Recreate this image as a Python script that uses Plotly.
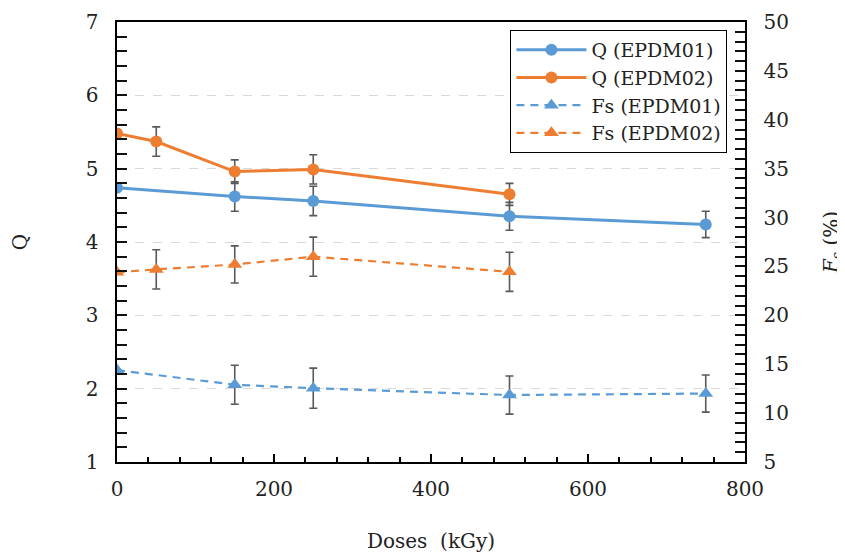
import math
import plotly.graph_objects as go

NAN = float("nan")

# ---- data ----
doses_01 = [0, 150, 250, 500, 750]
doses_02 = [0, 50, 150, 250, 500]

q_epdm01 = [4.74, 4.62, 4.56, 4.35, 4.24]
q_epdm01_err = [NAN, 0.20, 0.20, 0.19, 0.18]

q_epdm02 = [5.48, 5.37, 4.96, 4.99, 4.65]
q_epdm02_err = [NAN, 0.20, 0.16, 0.20, 0.15]

fs_epdm01 = [14.4, 12.9, 12.55, 11.85, 12.0]
fs_epdm01_err = [NAN, 2.0, 2.05, 1.95, 1.9]

fs_epdm02 = [24.4, 24.7, 25.2, 26.0, 24.45]
fs_epdm02_err = [NAN, 2.0, 1.9, 2.0, 2.0]

names = ["Q (EPDM01)", "Q (EPDM02)", "Fs (EPDM01)", "Fs (EPDM02)"]

BLUE = "#5B9BD5"
ORANGE = "#ED7D31"
ERR = "#595959"
FONT = "DejaVu Serif"
TICK = "#111111"


def err(arr):
    return dict(type="data", array=arr, visible=True, color=ERR, thickness=1.6, width=4)


fig = go.Figure()
fig.add_trace(go.Scatter(x=doses_01, y=q_epdm01, name=names[0], mode="lines+markers",
                         line=dict(color=BLUE, width=3),
                         marker=dict(symbol="circle", size=12, color=BLUE),
                         error_y=err(q_epdm01_err)))
fig.add_trace(go.Scatter(x=doses_02, y=q_epdm02, name=names[1], mode="lines+markers",
                         line=dict(color=ORANGE, width=3),
                         marker=dict(symbol="circle", size=12, color=ORANGE),
                         error_y=err(q_epdm02_err)))
fig.add_trace(go.Scatter(x=doses_01, y=fs_epdm01, name=names[2], mode="lines+markers",
                         yaxis="y2",
                         line=dict(color=BLUE, width=2.2, dash="8px,6px"),
                         marker=dict(symbol="triangle-up", size=13, color=BLUE),
                         error_y=err(fs_epdm01_err)))
fig.add_trace(go.Scatter(x=doses_02, y=fs_epdm02, name=names[3], mode="lines+markers",
                         yaxis="y2",
                         line=dict(color=ORANGE, width=2.2, dash="8px,6px"),
                         marker=dict(symbol="triangle-up", size=13, color=ORANGE),
                         error_y=err(fs_epdm02_err)))

fig.update_layout(
    template="none",
    width=837, height=548,
    margin=dict(l=109, r=100, t=14, b=94),
    paper_bgcolor="white", plot_bgcolor="white",
    font=dict(family=FONT, size=20, color="#222222"),
    showlegend=True,
    legend=dict(x=0.972, y=0.982, xanchor="right", yanchor="top",
                bgcolor="white", bordercolor="#000000", borderwidth=1,
                font=dict(family=FONT, size=19, color="#222222"),
                itemwidth=70, tracegroupgap=0),
    xaxis=dict(range=[0, 800], dtick=200, showgrid=False, zeroline=False, automargin=False,
               showline=True, linecolor="black", linewidth=1.5, mirror=True,
               ticks="inside", ticklen=8, tickcolor="black", tickwidth=1.5,
               minor=dict(dtick=40, ticks="inside", ticklen=5, tickcolor="black", tickwidth=1.5),
               ticklabelstandoff=8,
               title=dict(text="Doses  (kGy)", standoff=34, font=dict(size=20))),
    yaxis=dict(range=[1, 7], dtick=1, showgrid=True, gridcolor="#d9d9d9", griddash="dash",
               gridwidth=1, zeroline=False, automargin=False,
               showline=True, linecolor="black", linewidth=1.5, mirror=True,
               ticks="inside", ticklen=10, tickcolor=TICK, tickwidth=1.6,
               minor=dict(dtick=0.2, ticks="inside", ticklen=10, tickcolor=TICK,
                          tickwidth=1.6, showgrid=False),
               ticksuffix="  ",
               title=dict(text="Q", standoff=59, font=dict(size=20))),
    yaxis2=dict(range=[5, 50], dtick=5, overlaying="y", side="right", showgrid=False,
                zeroline=False, showline=True, linecolor="black", linewidth=1.5,
                automargin=False,
                ticks="inside", ticklen=10, tickcolor=TICK, tickwidth=1.6,
                minor=dict(dtick=1, ticks="inside", ticklen=10, tickcolor=TICK,
                           tickwidth=1.6, showgrid=False),
                tickprefix="  ",
                title=dict(text="<i>F</i><sub><i>s</i></sub> (%)", standoff=40,
                           font=dict(size=20))),
)

fig.write_html("out.html")
